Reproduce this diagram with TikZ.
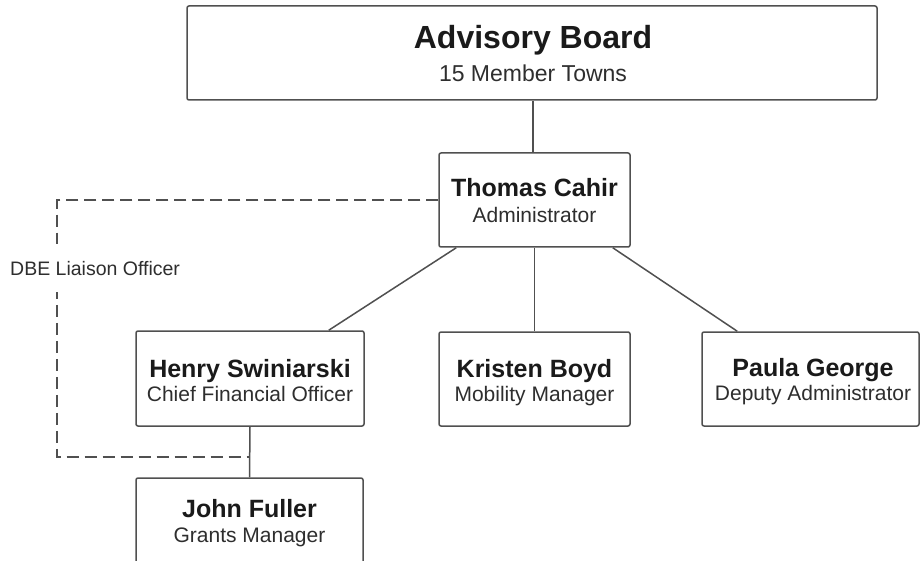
\documentclass[tikz,border=0pt]{standalone}
\usepackage{fontspec}
\setmainfont{Liberation Sans}
\usetikzlibrary{calc}
\definecolor{linegray}{HTML}{505050}
\definecolor{txt}{HTML}{1A1A1A}
\definecolor{subtxt}{HTML}{2E2E2E}
\tikzset{
  box/.style={draw=linegray, line width=1.5pt, rounded corners=2pt, rectangle, inner sep=0pt, fill=white},
  pname/.style={anchor=base, inner sep=0pt, text=txt, font=\bfseries\fontsize{25}{28}\selectfont},
  prole/.style={anchor=base, inner sep=0pt, text=subtxt, font=\fontsize{21}{24}\selectfont},
  link/.style={draw=linegray, line width=1.5pt},
  dotted link/.style={draw=linegray, line width=1.5pt, dash pattern=on 12pt off 6pt},
}
\begin{document}
\begin{tikzpicture}[x=1pt,y=-1pt]
\useasboundingbox (0,0) rectangle (920,561);
% boxes
\node[box, minimum width=690pt, minimum height=94pt] (adv) at (532,53) {};
\node[box, minimum width=191pt, minimum height=94pt] (thomas) at (534.5,200) {};
\node[box, minimum width=228pt, minimum height=95pt] (henry) at (250,378.5) {};
\node[box, minimum width=191pt, minimum height=94pt] (kristen) at (534.5,379) {};
\node[box, minimum width=217pt, minimum height=94pt] (paula) at (810.5,379) {};
\node[box, minimum width=227pt, minimum height=100pt] (john) at (249.5,528) {};
% texts
\node[anchor=base, inner sep=0pt, text=txt, font=\bfseries\fontsize{32}{36}\selectfont] (advT) at (533,49) {Advisory Board};
\node[anchor=base, inner sep=0pt, text=subtxt, font=\fontsize{23}{26}\selectfont] (advS) at (533,82) {15 Member Towns};
\node[pname] (thomasT) at (534.5,197) {Thomas Cahir};
\node[prole] (thomasS) at (534.5,223) {Administrator};
\node[pname] (henryT) at (250,377) {Henry Swiniarski};
\node[prole] (henryS) at (250,401) {Chief Financial Officer};
\node[pname] (kristenT) at (534.5,377) {Kristen Boyd};
\node[prole] (kristenS) at (534.5,401) {Mobility Manager};
\node[pname] (paulaT) at (813,376) {Paula George};
\node[prole] (paulaS) at (813,400) {Deputy Administrator};
\node[pname] (johnT) at (249.5,517) {John Fuller};
\node[prole] (johnS) at (249.5,542) {Grants Manager};
% connectors
\draw[link] (thomas.north -| adv.south) ++(1,0) coordinate (advfoot) -- (advfoot |- adv.south);
\draw[link] (advfoot) -- (advfoot |- thomas.north);
\draw[link] (thomas.south) -- (kristen.north);
\draw[link] ($(thomas.south west)+(18,0)$) -- ($(henry.north east)+(-36,0)$);
\draw[link] ($(thomas.south east)+(-18,0)$) -- ($(paula.north west)+(36,0)$);
\draw[link] (henry.south) -- (john.north);
\coordinate (dashend) at ($(henry.south)!0.6!(john.north)$);
\coordinate (dashcorner) at (57,200);
\draw[dotted link] (thomas.west) -- (dashcorner) -- (dashcorner |- dashend) -- (dashend);
\node[anchor=base west, fill=white, inner xsep=0pt, inner ysep=17pt, text=subtxt, font=\fontsize{19.5}{22}\selectfont] (dbe) at (10,275) {DBE Liaison Officer};
\end{tikzpicture}
\end{document}
